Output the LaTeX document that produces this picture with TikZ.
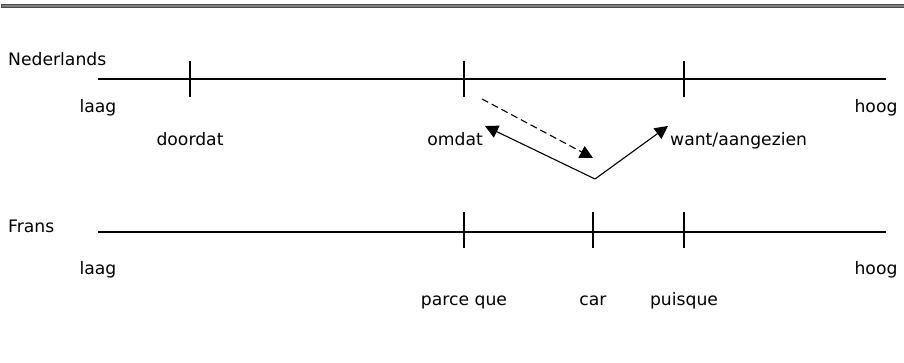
\documentclass[tikz,border=0pt]{standalone}
\usepackage{fontspec}
\setmainfont{DejaVu Sans}
\usetikzlibrary{arrows.meta}

\begin{document}
\begin{tikzpicture}[x=1pt,y=-1pt,
  lbl/.style={inner sep=0pt,font=\fontsize{17.2}{20}\selectfont},
  scale line/.style={line width=1.1pt},
  arr/.style={-{Triangle[length=13pt,width=13pt]},line width=1.1pt}]
\useasboundingbox (0,0) rectangle (904,363);
\draw[fill=gray,draw=gray!60!black] (1,4) rectangle (904,7);

% Nederlandse schaal
\coordinate (nlL) at (98,79);
\coordinate (nlR) at (886,79);
\draw[scale line] (nlL) -- (nlR);
\foreach \x in {190,464,684}
  \draw[scale line] (\x,61) -- (\x,97);
\node[lbl,anchor=base west] (nl) at (8,66) {Nederlands};
\node[lbl,anchor=base] (nllaag) at (98,113) {laag};
\node[lbl,anchor=base] (nlhoog) at (876,113) {hoog};
\node[lbl,anchor=base] (doordat) at (190,146) {doordat};
\node[lbl,anchor=base east] (omdat) at (483,146) {omdat};
\node[lbl,anchor=base west] (want) at (670,146) {want/aangezien};

% Franse schaal
\coordinate (frL) at (98,232);
\coordinate (frR) at (886,232);
\draw[scale line] (frL) -- (frR);
\foreach \x in {464,593,684}
  \draw[scale line] (\x,212) -- (\x,248);
\node[lbl,anchor=base west] (fr) at (8,233) {Frans};
\node[lbl,anchor=base] (frlaag) at (98,274) {laag};
\node[lbl,anchor=base] (frhoog) at (876,274) {hoog};
\node[lbl,anchor=base] (parce) at (464,305) {parce que};
\node[lbl,anchor=base] (car) at (593,305) {car};
\node[lbl,anchor=base] (puisque) at (684,305) {puisque};

% pijlen
\coordinate (dStart) at (482,99);
\coordinate (dEnd) at (593,158);
\coordinate (vBot) at (595,179);
\coordinate (vLeft) at (485,126);
\coordinate (vRight) at (668,126);
\draw[arr,dash pattern=on 7pt off 4pt] (dStart) -- (dEnd);
\draw[arr] (vBot) -- (vLeft);
\draw[arr] (vBot) -- (vRight);
\end{tikzpicture}
\end{document}
